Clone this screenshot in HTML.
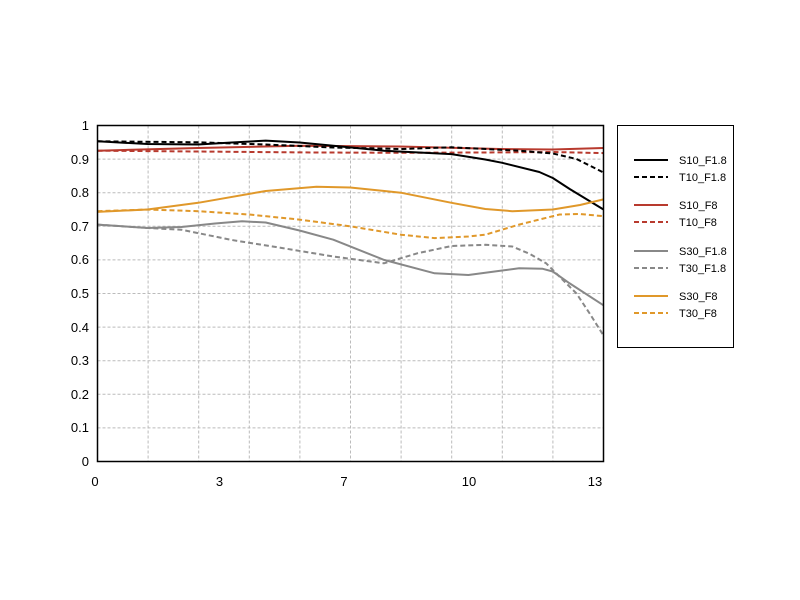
<!DOCTYPE html>
<html><head><meta charset="utf-8"><style>body{margin:0;background:#fff}svg{display:block}</style></head><body>
<svg width="800" height="600" xmlns="http://www.w3.org/2000/svg" font-family="Liberation Sans, DejaVu Sans, sans-serif">
<rect width="800" height="600" fill="#fff"/>
<g stroke="#bbb" stroke-width="1" stroke-dasharray="3,2">
<line x1="148.1" y1="125.5" x2="148.1" y2="461.5"/><line x1="198.7" y1="125.5" x2="198.7" y2="461.5"/><line x1="249.3" y1="125.5" x2="249.3" y2="461.5"/><line x1="299.9" y1="125.5" x2="299.9" y2="461.5"/><line x1="350.5" y1="125.5" x2="350.5" y2="461.5"/><line x1="401.1" y1="125.5" x2="401.1" y2="461.5"/><line x1="451.7" y1="125.5" x2="451.7" y2="461.5"/><line x1="502.3" y1="125.5" x2="502.3" y2="461.5"/><line x1="552.9" y1="125.5" x2="552.9" y2="461.5"/>
<line x1="97.5" y1="159.1" x2="603.5" y2="159.1"/><line x1="97.5" y1="192.7" x2="603.5" y2="192.7"/><line x1="97.5" y1="226.3" x2="603.5" y2="226.3"/><line x1="97.5" y1="259.9" x2="603.5" y2="259.9"/><line x1="97.5" y1="293.5" x2="603.5" y2="293.5"/><line x1="97.5" y1="327.1" x2="603.5" y2="327.1"/><line x1="97.5" y1="360.7" x2="603.5" y2="360.7"/><line x1="97.5" y1="394.3" x2="603.5" y2="394.3"/><line x1="97.5" y1="427.9" x2="603.5" y2="427.9"/>
</g>
<g fill="none" stroke-width="2" stroke-linejoin="round" stroke-linecap="butt">
<polyline stroke="#b83a2e" points="97.5,150.7 198,148 300,145.7 400,146.5 500,149 552.8,149.5 603.5,148"/>
<polyline stroke="#b83a2e" stroke-dasharray="5,3" points="97.5,150.7 198,151.5 300,152.4 400,152.8 500,152.4 552.8,152 603.5,153.1"/>
<polyline stroke="#000" points="97.5,141.3 147.5,144 198,144.5 231.9,142.5 265.7,140.6 299.5,142.5 333.3,145.7 384,150.7 451.5,154.1 485.3,159.5 502.2,162.8 539.3,172 552.8,178 569.7,189 603.5,209.5"/>
<polyline stroke="#000" stroke-dasharray="5,3" points="97.5,141.3 198,142.3 265.7,144.5 333.3,147.5 400.8,149 451.5,147.3 519.1,150.7 552.8,153.5 576.5,159 603.5,172.5"/>
<polyline stroke="#888" points="97.5,224.6 147.5,228 181.3,227 215,223.5 242.1,221.3 265.7,222.5 299.5,230.5 333.3,239.7 384,259.9 434.6,273.3 468.4,275 502.2,270.5 519.1,268.3 542.7,268.8 552.8,271.5 569.7,283.4 603.5,305.3"/>
<polyline stroke="#888" stroke-dasharray="5,3" points="97.5,224.6 147.5,228 181.3,229.7 231.9,240 282.6,248.1 333.3,256.5 384,263.3 417.7,253.2 451.5,246 485.3,244.8 512.3,246.5 530,254 546.1,263.3 576.5,293.5 590,314 603.5,335.5"/>
<polyline stroke="#e0982a" points="97.5,211.9 147.5,209.5 198.2,202.8 265.7,191 316.4,186.7 350.2,187.5 400.8,192.7 451.5,202.8 485.3,209 512.3,211.2 552.8,209.5 580,205 603.5,199.4"/>
<polyline stroke="#e0982a" stroke-dasharray="5,3" points="97.5,211.2 147.5,209.5 198.2,211.2 248.8,214.5 299.5,219.6 350.2,226.3 400.8,234.7 434.6,238.1 468.4,236.5 485.3,234.7 519.1,224.6 559.6,214.5 580,214 603.5,216.2"/>
</g>
<rect x="97.5" y="125.5" width="506" height="336" fill="none" stroke="#000" stroke-width="1.5"/>
<g font-size="13" fill="#000" text-anchor="end">
<text x="89" y="130">1</text><text x="89" y="164">0.9</text><text x="89" y="197">0.8</text><text x="89" y="231">0.7</text><text x="89" y="264">0.6</text><text x="89" y="298">0.5</text><text x="89" y="332">0.4</text><text x="89" y="365">0.3</text><text x="89" y="399">0.2</text><text x="89" y="432">0.1</text><text x="89" y="466">0</text>
</g>
<g font-size="13" fill="#000" text-anchor="middle">
<text x="95" y="486">0</text><text x="219.5" y="486">3</text><text x="344" y="486">7</text><text x="469" y="486">10</text><text x="595" y="486">13</text>
</g>
<rect x="617.5" y="125.5" width="116" height="222" fill="#fff" stroke="#000" stroke-width="1"/>
<g stroke-width="2">
<line x1="634" y1="160" x2="668" y2="160" stroke="#000"/>
<line x1="634" y1="177" x2="668" y2="177" stroke="#000" stroke-dasharray="5,3"/>
<line x1="634" y1="205" x2="668" y2="205" stroke="#b83a2e"/>
<line x1="634" y1="222" x2="668" y2="222" stroke="#b83a2e" stroke-dasharray="5,3"/>
<line x1="634" y1="251" x2="668" y2="251" stroke="#888"/>
<line x1="634" y1="268" x2="668" y2="268" stroke="#888" stroke-dasharray="5,3"/>
<line x1="634" y1="296" x2="668" y2="296" stroke="#e0982a"/>
<line x1="634" y1="313" x2="668" y2="313" stroke="#e0982a" stroke-dasharray="5,3"/>
</g>
<g font-size="11" fill="#000">
<text x="679" y="164">S10_F1.8</text><text x="679" y="181">T10_F1.8</text>
<text x="679" y="209">S10_F8</text><text x="679" y="226">T10_F8</text>
<text x="679" y="255">S30_F1.8</text><text x="679" y="272">T30_F1.8</text>
<text x="679" y="300">S30_F8</text><text x="679" y="317">T30_F8</text>
</g>
</svg>
</body></html>
